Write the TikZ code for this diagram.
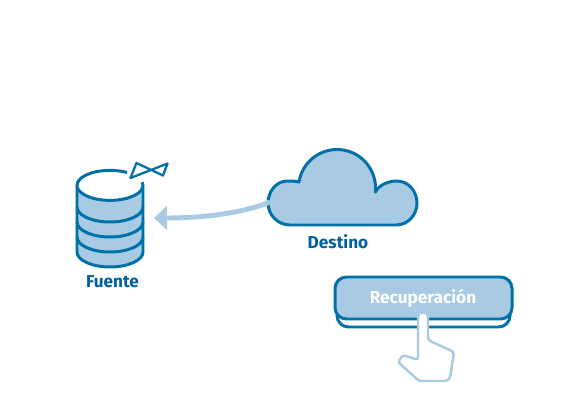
\documentclass[tikz,border=0pt]{standalone}
\usepackage{fontspec}
\setmainfont{Fira Sans}
\usetikzlibrary{arrows.meta}
\definecolor{azul}{HTML}{0070A8}
\definecolor{celeste}{HTML}{A8CAE2}
\definecolor{rotulo}{HTML}{005F9E}
\tikzset{
  contorno/.style={draw=azul,line width=1.7pt,line join=round},
  rotulo/.style={font=\bfseries\fontsize{9.8}{12}\selectfont,text=rotulo,inner sep=0pt}
}
\begin{document}
\begin{tikzpicture}[x=0.02cm,y=-0.02cm]
 \useasboundingbox (0,0) rectangle (580,415);
 % fuente
 \draw [contorno,fill=celeste](77,186) -- (77,252) arc (180:0:33 and 15) -- (143,186) -- cycle;
 \foreach \y in {207,222,237}{
    \draw [contorno](77,\y) arc (180:0:33 and 15);
 }
 \fill [white](110,186) ellipse [x radius=33,y radius=15];
 \fill [white](128,168) rectangle (146,183);
 \draw [contorno](127,172.5) arc (-59:-360:33 and 15) arc (0:-12:33 and 15);
 \draw [draw=azul,line width=1.3pt,line join=round,fill=white](136.5,163) -- (163,175.5) -- (167.5,163.5) -- (130.5,178) -- cycle;
 \node [rotulo] (fuente) at (112.5,281.5) {Fuente};
 % destino
 \draw [contorno,fill=celeste](299,182) arc (189:366:38.5)
   .. controls (379,185) and (388,181) .. (397,181)
   .. controls (408,181) and (417,191) .. (417,203)
   .. controls (417,215) and (408,225) .. (396,225) -- (290,225)
   .. controls (278,225) and (268,215) .. (268,203)
   .. controls (268,191) and (277,181) .. (287,181)
   .. controls (291,181) and (296,181) .. (299,182) -- cycle;
 \node [rotulo] (destino) at (338,242) {Destino};
 \coordinate (salida) at (270,202);
 \coordinate (llegada) at (154,218);
 \draw [celeste,line width=2.8pt,-{Stealth[inset=0pt,length=7.5pt,width=13.6pt]}](salida) .. controls (240,214) and (200,218) .. (llegada);
 % boton
 \draw [contorno,fill=white,rounded corners=6.5pt](337,295) rectangle (510,327);
 \draw [contorno,fill=celeste,rounded corners=6.5pt](335,277) rectangle (512,319);
 \node [rotulo,text=white] (boton) at (423,298) {Recuperación};
 % mano
 \draw [draw=celeste,line width=1.4pt,line join=round,fill=white,rounded corners=1.5pt]
   (418,360) -- (418,319) .. controls (418,311) and (428,311) .. (428,319) -- (428,340)
   -- (454,352) -- (450,378) -- (447,381) -- (419,381) -- (398,362) -- (403,355) -- cycle;
\end{tikzpicture}
\end{document}
